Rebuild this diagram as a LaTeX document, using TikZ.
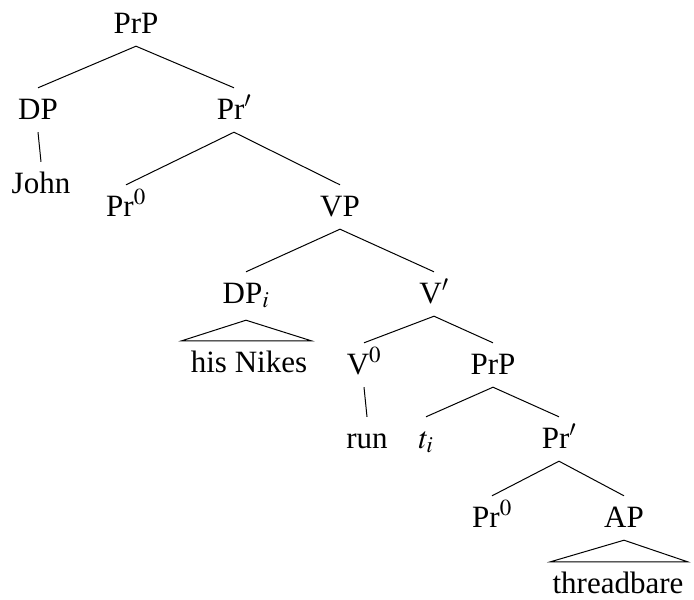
\documentclass[tikz,border=0pt]{standalone}
\usepackage{mathptmx}
\usepackage[no-math]{fontspec}
\setmainfont{Liberation Serif}
\usepackage{tikz}

\begin{document}
\begin{tikzpicture}[x=1pt,y=1pt]
\tikzstyle{every node}=[font=\fontsize{31}{37}\selectfont]
\tikzstyle{cat}=[anchor=base, inner xsep=1pt, inner ysep=10pt, text height=21pt, text depth=3pt]
\tikzstyle{edge}=[line width=1pt]
\useasboundingbox (0,0) rectangle (694,-600);
% top of the tree
\node [cat] (prp) at (136,-33) {PrP};
\node [cat] (dp) at (38,-119) {DP};
\node [cat] (prbar) at (234,-119) {Pr$'$};
\node [cat] (john) at (41,-193) {John};
\node [cat] (przero) at (126,-216) {Pr$^0$};
\node [cat] (vp) at (340,-216) {VP};
% VP part
\node [cat] (dpi) at (246,-303) {DP$_i$};
\node [cat] (vbar) at (434,-303) {V$'$};
\node [cat] (nikes) at (249,-372) {his Nikes};
\node [cat] (vzero) at (364,-374) {V$^0$};
\node [cat] (prpb) at (493,-374) {PrP};
\node [cat] (run) at (367,-448) {run};
\node [cat] (ti) at (426,-448) {$t_i$};
\node [cat] (prbarb) at (559,-448) {Pr$'$};
\node [cat] (przerob) at (492,-527) {Pr$^0$};
\node [cat] (ap) at (624,-527) {AP};
\node [cat] (bare) at (618,-593) {threadbare};
% branches
\draw [edge] (dp.north) -- (prp.south) -- (prbar.north);
\draw [edge] (dp.south) -- (john.north);
\draw [edge] (przero.north) -- (prbar.south) -- (vp.north);
\draw [edge] (dpi.north) -- (vp.south) -- (vbar.north);
\draw [edge] (vzero.north) -- (vbar.south) -- (prpb.north);
\draw [edge] (vzero.south) -- (run.north);
\draw [edge] (ti.north) -- (prpb.south) -- (prbarb.north);
\draw [edge] (przerob.north) -- (prbarb.south) -- (ap.north);
% triangles
\draw [edge] ([yshift=-4pt]dpi.south) -- ([xshift=-8pt]nikes.north west) -- ([xshift=3pt]nikes.north east) -- cycle;
\draw [edge] (ap.south) -- ([xshift=-1pt]bare.north west) -- ([xshift=3pt]bare.north east) -- cycle;
\end{tikzpicture}
\end{document}
